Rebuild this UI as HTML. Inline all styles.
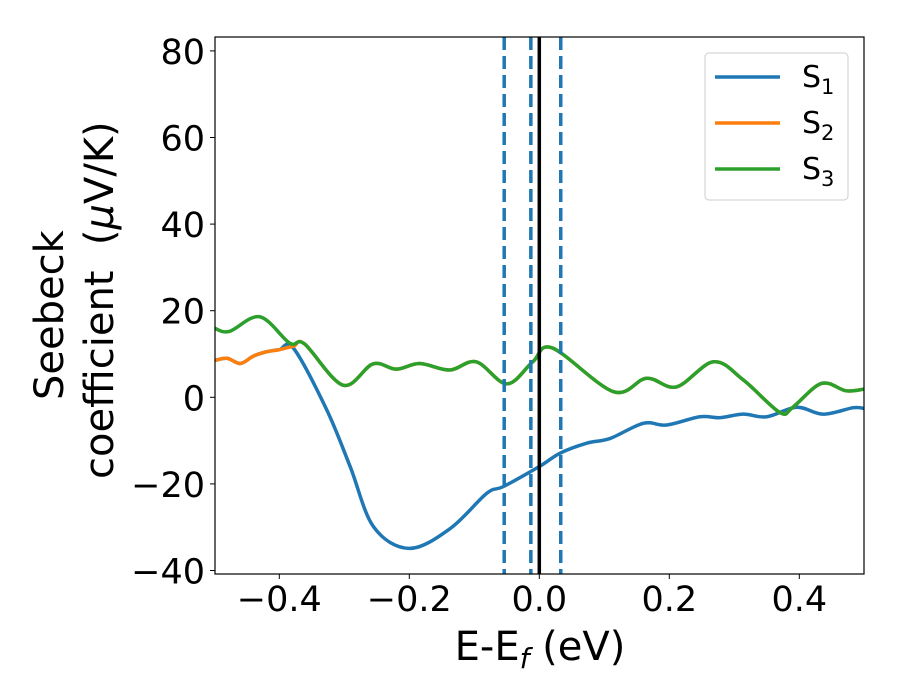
<!DOCTYPE html>
<html><head><meta charset="utf-8"><style>
body{margin:0;background:#fff;}
svg{display:block;font-family:"DejaVu Sans","Liberation Sans",sans-serif;}
</style></head><body>
<svg id="chart" width="900" height="700"></svg>
<script>
const xS1=[-0.5,-0.48,-0.46,-0.44,-0.42,-0.4,-0.378,-0.327,-0.291,-0.255,-0.2,-0.137,-0.081,-0.055,0.001,0.032,0.073,0.109,0.16,0.196,0.247,0.278,0.314,0.35,0.396,0.437,0.483,0.5];
const yS1=[8.5,9,7.8,9.5,10.5,11,11.3,-2.9,-16,-29.9,-34.9,-30.3,-22.2,-20.6,-15.9,-12.9,-10.6,-9.5,-6,-6.4,-4.5,-4.7,-3.9,-4.5,-2.3,-3.9,-2.4,-2.6];
const xS2=[-0.5,-0.48,-0.46,-0.44,-0.42,-0.4,-0.378,-0.361,-0.302,-0.256,-0.22,-0.184,-0.138,-0.097,-0.05,-0.01,0.02,0.114,0.165,0.211,0.268,0.314,0.37,0.39,0.434,0.472,0.5];
const yS2=[8.5,9,7.8,9.5,10.5,11,11.8,12.3,2.8,7.7,6.5,7.8,6.3,8.2,3.1,8.2,11.4,1.3,4.4,2.4,8.2,4,-3.5,-2.3,3.2,1.5,1.9];
const xS3=[-0.5,-0.477,-0.43,-0.384,-0.361,-0.302,-0.256,-0.22,-0.184,-0.138,-0.097,-0.05,-0.01,0.02,0.114,0.165,0.211,0.268,0.314,0.37,0.39,0.434,0.472,0.5];
const yS3=[16,15.2,18.6,12.5,12.3,2.8,7.7,6.5,7.8,6.3,8.2,3.1,8.2,11.4,1.3,4.4,2.4,8.2,4,-3.5,-2.3,3.2,1.5,1.9];
const vDashed=[-0.054,-0.013,0.033];
const xTicks=[-0.4,-0.2,0.0,0.2,0.4];
const xTickLabels=["\u22120.4","\u22120.2","0.0","0.2","0.4"];
const yTicks=[-40,-20,0,20,40,60,80];
const yTickLabels=["\u221240","\u221220","0","20","40","60","80"];

const L=215,R=864,T=37,B=574;
const sx=v=>539.3+v*650;
const sy=v=>397.3-v*4.33;
const svg=document.getElementById('chart');
const NS='http://www.w3.org/2000/svg';
function mk(tag,attrs,parent){const e=document.createElementNS(NS,tag);for(const k in attrs)e.setAttribute(k,attrs[k]);(parent||svg).appendChild(e);return e;}
function pathFor(xs,ys){
  const p=xs.map((x,i)=>[sx(x),sy(ys[i])]);
  let d='M'+p[0][0]+','+p[0][1];
  for(let i=0;i<p.length-1;i++){
    const p0=p[Math.max(0,i-1)],p1=p[i],p2=p[i+1],p3=p[Math.min(p.length-1,i+2)];
    const c1=[p1[0]+(p2[0]-p0[0])/6,p1[1]+(p2[1]-p0[1])/6];
    const c2=[p2[0]-(p3[0]-p1[0])/6,p2[1]-(p3[1]-p1[1])/6];
    d+=' C'+c1[0]+','+c1[1]+' '+c2[0]+','+c2[1]+' '+p2[0]+','+p2[1];
  }
  return d;
}
const defs=mk('defs',{});
const cp=mk('clipPath',{id:'clip'},defs);
mk('rect',{x:L,y:T,width:R-L,height:B-T},cp);
const g=mk('g',{'clip-path':'url(#clip)'});
let e;
e=mk('path',{d:pathFor(xS1,yS1),fill:'none',stroke:'#1f77b4','stroke-width':3.5},g);


e=mk('path',{d:pathFor(xS2,yS2),fill:'none',stroke:'#ff7f0e','stroke-width':3.5},g);


e=mk('path',{d:pathFor(xS3,yS3),fill:'none',stroke:'#2ca02c','stroke-width':3.5},g);


vDashed.forEach(v=>{
  e=mk('line',{x1:sx(v),x2:sx(v),y1:T,y2:B,stroke:'#1f77b4','stroke-width':3.5,'stroke-dasharray':'13,6'},g);
  
  
});
e=mk('line',{x1:sx(0),x2:sx(0),y1:T,y2:B,stroke:'#000','stroke-width':3.5},g);


e=mk('rect',{x:L,y:T,width:R-L,height:B-T,fill:'none',stroke:'#000','stroke-width':1.2});


xTicks.forEach((v,i)=>{
  mk('line',{x1:sx(v),x2:sx(v),y1:B,y2:B+5,stroke:'#000','stroke-width':1});
  e=mk('text',{x:sx(v),y:B+37,'text-anchor':'middle','font-size':35});
  e.textContent=xTickLabels[i];
  
  
});
yTicks.forEach((v,i)=>{
  mk('line',{x1:L-5,x2:L,y1:sy(v),y2:sy(v),stroke:'#000','stroke-width':1});
  e=mk('text',{x:L-10,y:sy(v)+13,'text-anchor':'end','font-size':35});
  e.textContent=yTickLabels[i];
  
  
});
</script>
<svg style="position:absolute;left:0;top:0" width="900" height="700">
<g font-family="DejaVu Sans, Liberation Sans, sans-serif">
<text x="540" y="660" text-anchor="middle" font-size="40">E-E<tspan font-style="italic" font-size="28" dy="8">f</tspan><tspan dy="-8"> (eV)</tspan></text>
<g>
<text transform="translate(63,400) rotate(-90)" x="0" y="0" text-anchor="start" font-size="40">Seebeck</text>
<text transform="translate(113,479) rotate(-90)" x="0" y="0" text-anchor="start" font-size="40" xml:space="preserve">coefficient  (<tspan font-style="italic">μ</tspan>V/K)</text>
</g>
<g>
<rect x="705" y="53" width="143" height="147" rx="4" fill="#fff" stroke="#ccc" stroke-width="1"/>
<g><line x1="715" x2="780" y1="77" y2="77" stroke="#1f77b4" stroke-width="3.5"/><text x="802" y="87" font-size="30">S<tspan font-size="21" dy="7">1</tspan></text></g>
<g><line x1="715" x2="780" y1="123" y2="123" stroke="#ff7f0e" stroke-width="3.5"/><text x="802" y="133" font-size="30">S<tspan font-size="21" dy="7">2</tspan></text></g>
<g><line x1="715" x2="780" y1="169" y2="169" stroke="#2ca02c" stroke-width="3.5"/><text x="802" y="179" font-size="30">S<tspan font-size="21" dy="7">3</tspan></text></g>
</g>
</g>
</svg>
</body></html>
